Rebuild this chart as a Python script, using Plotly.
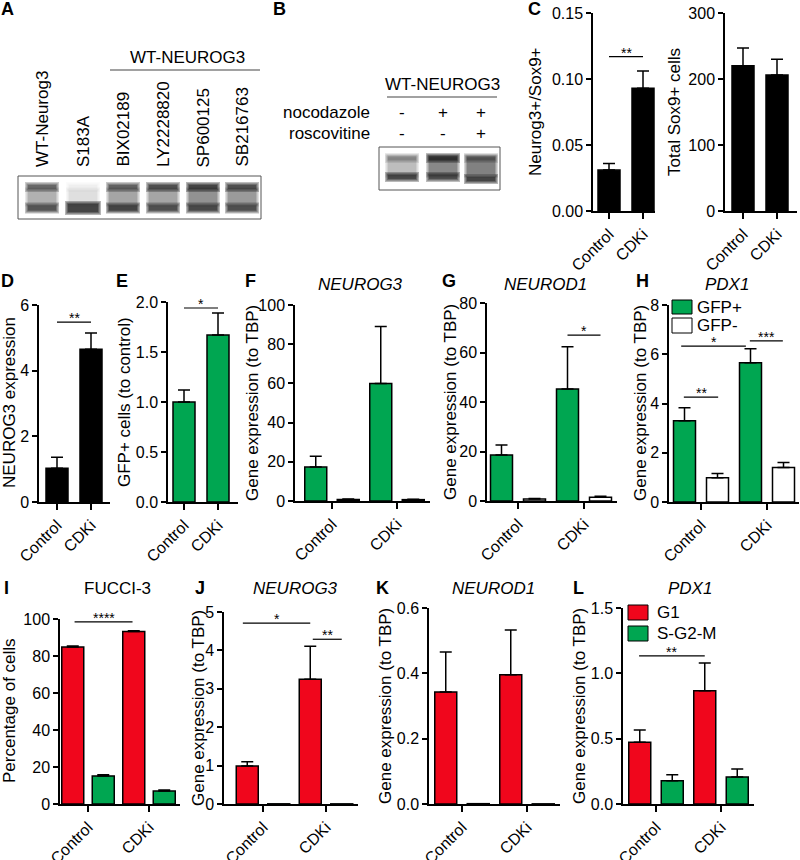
import plotly.graph_objects as go

W, H = 800, 860
FONT = "Liberation Sans, Arial, Helvetica, sans-serif"
GREEN = "#00a651"
RED = "#f0061c"
WHITE = "#ffffff"
BLACK = "#000000"

# ------------------------------------------------------------------ data
groups = ["Control", "CDKi"]

blotA_header = "WT-NEUROG3"
blotA_lanes = ["WT-Neurog3", "S183A", "BIX02189", "LY2228820", "SP600125", "SB216763"]
blotA_upper = [0.70, 0.05, 0.75, 0.90, 1.00, 0.90]
blotA_smear = [0.30, 0.10, 0.35, 0.35, 0.45, 0.40]
blotA_lower = [0.85, 1.00, 1.00, 0.90, 0.95, 0.90]

blotB_header = "WT-NEUROG3"
blotB_rows = ["nocodazole", "roscovitine"]
blotB_nocodazole = ["-", "+", "+"]
blotB_roscovitine = ["-", "-", "+"]
blotB_upper = [0.30, 0.90, 0.40]
blotB_smear = [0.25, 0.50, 0.55]
blotB_lower = [0.95, 0.90, 1.00]

c1_mean = [0.031, 0.093]; c1_sem = [0.005, 0.013]
c2_mean = [220, 206];     c2_sem = [27, 24]
d_mean = [1.03, 4.65];    d_sem = [0.33, 0.50]
e_mean = [1.00, 1.67];    e_sem = [0.12, 0.22]

f_pos = [17.3, 60.0]; f_pos_sem = [5.5, 29.0]
f_neg = [0.8, 0.7];   f_neg_sem = [0.2, 0.2]
g_pos = [18.6, 45.3]; g_pos_sem = [4.0, 17.0]
g_neg = [0.8, 1.5];   g_neg_sem = [0.2, 0.4]
h_pos = [3.30, 5.65]; h_pos_sem = [0.53, 0.57]
h_neg = [0.98, 1.40]; h_neg_sem = [0.18, 0.20]

i_g1 = [84.8, 93.2];     i_g1_sem = [0.6, 0.4]
i_sg2m = [15.2, 7.0];    i_sg2m_sem = [0.6, 0.5]
j_g1 = [0.99, 3.25];     j_g1_sem = [0.11, 0.86]
j_sg2m = [0.005, 0.004]; j_sg2m_sem = [0.0, 0.0]
k_g1 = [0.343, 0.396];   k_g1_sem = [0.122, 0.137]
k_sg2m = [0.001, 0.0005]; k_sg2m_sem = [0.0, 0.0]
l_g1 = [0.473, 0.866];   l_g1_sem = [0.094, 0.214]
l_sg2m = [0.177, 0.207]; l_sg2m_sem = [0.046, 0.061]

legend_h = ["GFP+", "GFP-"]
legend_l = ["G1", "S-G2-M"]

# ------------------------------------------------------------------ helpers
fig = go.Figure()
shapes = []
annotations = []


def fx(p):
    return p / W


def fy(p):
    return 1 - p / H


def text(x, y, s, size=17, xanchor="center", yanchor="middle", **kw):
    annotations.append(dict(x=fx(x), y=fy(y), xref="paper", yref="paper", text=s,
                            showarrow=False, xanchor=xanchor, yanchor=yanchor,
                            font=dict(family=FONT, size=size, color=BLACK), **kw))


def rect(x0, y0, x1, y1, fill, line=None, lw=0):
    shapes.append(dict(type="rect", xref="paper", yref="paper",
                       x0=fx(x0), x1=fx(x1), y0=fy(y1), y1=fy(y0),
                       fillcolor=fill, layer="above",
                       line=dict(color=line or "rgba(0,0,0,0)", width=lw)))


def band(xc, yc, w, h, a):
    # soft band: stacked translucent rectangles
    for grow in [3.0, 1.8, 0.8, 0.0]:
        rect(xc - w / 2 - grow, yc - h / 2 - grow, xc + w / 2 + grow, yc + h / 2 + grow,
             "rgba(10,10,10,%.3f)" % (a * 0.30))


n_axes = [0]


def panel(px0, px1, t0, t1, ptop, pbot, ymax, dtick, fmt, series, sig=(), bw=22):
    n_axes[0] += 1
    n = n_axes[0]
    sfx = "" if n == 1 else str(n)
    unit = t1 - t0
    xr = [(px0 - t0) / unit, (px1 - t0) / unit]
    w = bw / unit
    for vals, sem, color, pos in series:
        err = None
        if any(v > 0 for v in sem):
            err = dict(type="data", array=sem, arrayminus=[0] * len(sem), symmetric=False,
                       color=BLACK, thickness=1.5, width=6)
        fig.add_trace(go.Bar(x=groups, y=vals, xaxis="x" + sfx, yaxis="y" + sfx,
                             width=w, offset=pos - w / 2,
                             marker=dict(color=color, line=dict(color=BLACK, width=1.5)),
                             error_y=err, showlegend=False, hoverinfo="skip"))
    fig.update_layout(**{
        "xaxis" + sfx: dict(domain=[fx(px0), fx(px1)], anchor="y" + sfx, type="category",
                            categoryorder="array", categoryarray=groups, range=xr,
                            automargin=False, fixedrange=True,
                            showline=True, linecolor=BLACK, linewidth=1.5,
                            ticks="outside", ticklen=6, tickwidth=1.5, tickcolor=BLACK,
                            tickangle=-45, showgrid=False, zeroline=False,
                            tickfont=dict(family=FONT, size=16, color=BLACK)),
        "yaxis" + sfx: dict(domain=[fy(pbot), fy(ptop)], anchor="x" + sfx,
                            range=[0, ymax], tick0=0, dtick=dtick, tickformat=fmt,
                            automargin=False, fixedrange=True,
                            showline=True, linecolor=BLACK, linewidth=1.5,
                            ticks="outside", ticklen=5, tickwidth=1.5, tickcolor=BLACK,
                            showgrid=False, zeroline=False,
                            tickfont=dict(family=FONT, size=16, color=BLACK)),
    })
    for a, b, y, lab in sig:
        shapes.append(dict(type="line", xref="x" + sfx, yref="y" + sfx,
                           x0=a, x1=b, y0=y, y1=y, line=dict(color=BLACK, width=1.2)))
        annotations.append(dict(x=(a + b) / 2, y=y, xref="x" + sfx, yref="y" + sfx,
                                text=lab, showarrow=False, xanchor="center",
                                yanchor="bottom", yshift=-6,
                                font=dict(family=FONT, size=14, color=BLACK)))


# ------------------------------------------------------------------ panel A (blot)
text(7, 9, "<b>A</b>", 18)
lanesA = [42, 83, 123, 163, 203, 242]
for xc, lab in zip(lanesA, blotA_lanes):
    text(xc, 169, lab, 17, textangle=-90, yanchor="bottom")
text(187, 58, blotA_header, 17)
shapes.append(dict(type="line", xref="paper", yref="paper", x0=fx(110), x1=fx(260),
                   y0=fy(70), y1=fy(70), line=dict(color="#444", width=1.2)))
for k, (xc, up, sm, lo) in enumerate(zip(lanesA, blotA_upper, blotA_smear, blotA_lower)):
    band(xc, 197, 28, 13, sm)
    band(xc, 187, 28, 4, up)
    if k == 1:
        band(xc, 208, 30, 8, lo)
    else:
        band(xc, 208, 28, 5, lo)
rect(18, 176, 261, 219, "rgba(0,0,0,0)", "#555", 1)

# ------------------------------------------------------------------ panel B (blot)
text(279, 9, "<b>B</b>", 18)
text(442, 84, blotB_header, 17)
shapes.append(dict(type="line", xref="paper", yref="paper", x0=fx(387), x1=fx(497),
                   y0=fy(97), y1=fy(97), line=dict(color="#444", width=1.2)))
text(372, 112, blotB_rows[0], 17, xanchor="right")
text(372, 133, blotB_rows[1], 17, xanchor="right")
lanesB = [402, 443, 481]
for xc, s1, s2 in zip(lanesB, blotB_nocodazole, blotB_roscovitine):
    text(xc, 112, s1, 17)
    text(xc, 133, s2, 17)
for k, (xc, up, sm, lo) in enumerate(zip(lanesB, blotB_upper, blotB_smear, blotB_lower)):
    band(xc, 166, 28, 17, sm)
    band(xc, 158, 28, 4, up)
    band(xc, 177 + (2 if k == 2 else 0), 28, 4, lo)
rect(379, 147, 500, 190, "rgba(0,0,0,0)", "#555", 1)

# ------------------------------------------------------------------ panel C
text(534, 9, "<b>C</b>", 18)
panel(593, 655, 609, 643, 13, 211, 0.15, 0.05, ".2f",
      [(c1_mean, c1_sem, BLACK, 0)], sig=[(0, 1, 0.117, "**")])
text(535, 112, "Neurog3+/Sox9+", 17, textangle=-90)
panel(725, 797, 743, 777, 13, 211, 300, 100, "d",
      [(c2_mean, c2_sem, BLACK, 0)])
text(674, 112, "Total Sox9+ cells", 17, textangle=-90)

# ------------------------------------------------------------------ panels D-H
text(7, 281, "<b>D</b>", 18)
panel(39, 110, 57, 91, 305, 502, 6, 2, "d",
      [(d_mean, d_sem, BLACK, 0)], sig=[(0, 1, 5.48, "**")])
text(9, 403, "NEUROG3 expression", 17, textangle=-90)

text(122, 281, "<b>E</b>", 18)
panel(168, 238, 184, 218, 302, 502, 2, 0.5, ".1f",
      [(e_mean, e_sem, GREEN, 0)], sig=[(0, 1, 1.94, "*")])
text(124, 402, "GFP+ cells (to control)", 17, textangle=-90)

text(251, 281, "<b>F</b>", 18)
text(360, 284, "<i>NEUROG3</i>", 17)
panel(295, 430, 332, 397, 305, 501, 100, 20, "d",
      [(f_pos, f_pos_sem, GREEN, -0.25), (f_neg, f_neg_sem, WHITE, 0.25)])
text(252, 403, "Gene expression (to TBP)", 17, textangle=-90)

text(449, 281, "<b>G</b>", 18)
text(545, 284, "<i>NEUROD1</i>", 17)
panel(487, 617, 518, 584, 303, 501, 80, 20, "d",
      [(g_pos, g_pos_sem, GREEN, -0.25), (g_neg, g_neg_sem, WHITE, 0.25)],
      sig=[(0.75, 1.25, 67, "*")])
text(450, 402, "Gene expression (to TBP)", 17, textangle=-90)

text(642, 281, "<b>H</b>", 18)
text(727, 284, "<i>PDX1</i>", 17)
panel(669, 799, 701, 767, 305, 502, 8, 2, "d",
      [(h_pos, h_pos_sem, GREEN, -0.25), (h_neg, h_neg_sem, WHITE, 0.25)],
      sig=[(-0.26, 0.26, 4.26, "**"), (-0.3, 0.68, 6.33, "*"), (0.74, 1.24, 6.54, "***")])
text(640, 403, "Gene expression (to TBP)", 17, textangle=-90)
rect(672, 300, 692, 314, GREEN, BLACK, 1)
rect(672, 318, 692, 333, WHITE, BLACK, 1)
text(695, 307, legend_h[0], 17, xanchor="left")
text(695, 325, legend_h[1], 17, xanchor="left")

# ------------------------------------------------------------------ panels I-L
text(6, 588, "<b>I</b>", 18)
text(117, 588, "FUCCI-3", 17)
panel(60, 180, 88, 149, 619, 804, 100, 20, "d",
      [(i_g1, i_g1_sem, RED, -0.25), (i_sg2m, i_sg2m_sem, GREEN, 0.25)],
      sig=[(-0.22, 0.73, 98.4, "****")])
text(9, 711, "Percentage of cells", 17, textangle=-90)

text(200, 588, "<b>J</b>", 18)
text(295, 588, "<i>NEUROG3</i>", 17)
panel(224, 358, 263, 326, 612, 804, 5, 1, "d",
      [(j_g1, j_g1_sem, RED, -0.25), (j_sg2m, j_sg2m_sem, GREEN, 0.25)],
      sig=[(-0.32, 0.75, 4.71, "*"), (0.79, 1.25, 4.29, "**")])
text(198, 708, "Gene expression (to TBP)", 17, textangle=-90)

text(382, 588, "<b>K</b>", 18)
text(493, 588, "<i>NEUROD1</i>", 17)
panel(429, 560, 462, 527, 608, 804, 0.6, 0.2, ".1f",
      [(k_g1, k_g1_sem, RED, -0.25), (k_sg2m, k_sg2m_sem, GREEN, 0.25)])
text(385, 706, "Gene expression (to TBP)", 17, textangle=-90)

text(578, 588, "<b>L</b>", 18)
text(690, 588, "<i>PDX1</i>", 17)
panel(623, 754, 656, 721, 608, 804, 1.5, 0.5, ".1f",
      [(l_g1, l_g1_sem, RED, -0.25), (l_sg2m, l_sg2m_sem, GREEN, 0.25)],
      sig=[(-0.26, 0.75, 1.133, "**")])
text(579, 706, "Gene expression (to TBP)", 17, textangle=-90)
rect(628, 605, 648, 620, RED, BLACK, 1)
rect(628, 626, 648, 641, GREEN, BLACK, 1)
text(655, 612, legend_l[0], 17, xanchor="left")
text(655, 633, legend_l[1], 17, xanchor="left")

# ------------------------------------------------------------------ layout
fig.update_layout(width=W, height=H,
                  margin=dict(l=0, r=0, t=0, b=0, pad=0, autoexpand=False),
                  paper_bgcolor="white", plot_bgcolor="white",
                  barmode="overlay", showlegend=False, hovermode=False,
                  font=dict(family=FONT, color=BLACK),
                  shapes=shapes, annotations=annotations)
fig.write_html("out.html", config={"displayModeBar": False},
               post_script="document.body.style.margin='0px';")
